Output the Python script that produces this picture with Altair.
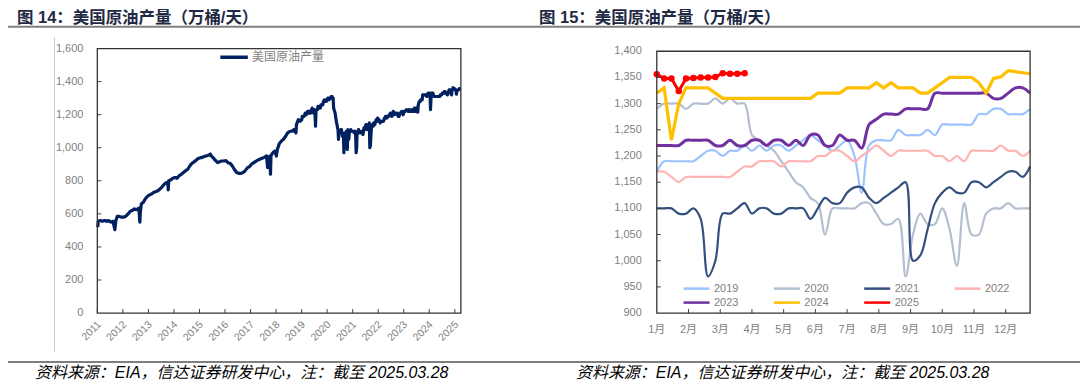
import altair as alt
import pandas as pd

# ---------------- data ----------------
pre_dates = [
    "2011-01-07", "2011-01-14", "2011-02-11", "2011-03-11", "2011-04-15", "2011-05-13", "2011-06-10", "2011-07-15",
    "2011-08-12", "2011-08-26", "2011-09-09", "2011-09-23", "2011-10-14", "2011-11-11", "2011-12-09",
    "2012-01-13", "2012-02-10", "2012-03-16", "2012-04-13", "2012-05-11", "2012-06-15", "2012-07-13", "2012-08-17",
    "2012-08-31", "2012-09-07", "2012-09-21", "2012-10-19", "2012-11-16", "2012-12-14",
    "2013-01-18", "2013-02-15", "2013-03-15", "2013-04-19", "2013-05-17", "2013-06-14", "2013-07-19", "2013-08-16",
    "2013-09-13", "2013-10-04", "2013-10-11", "2013-10-18", "2013-11-15", "2013-12-13",
    "2014-01-17", "2014-02-14", "2014-03-14", "2014-04-18", "2014-05-16", "2014-06-13", "2014-07-18", "2014-08-15",
    "2014-09-12", "2014-10-17", "2014-11-14", "2014-12-12",
    "2015-01-16", "2015-02-13", "2015-03-13", "2015-04-17", "2015-05-15", "2015-06-05", "2015-06-19", "2015-07-17",
    "2015-08-14", "2015-09-18", "2015-10-16", "2015-11-13", "2015-12-18",
    "2016-01-15", "2016-02-12", "2016-03-18", "2016-04-15", "2016-05-13", "2016-06-17", "2016-07-15", "2016-08-19",
    "2016-09-16", "2016-10-14", "2016-11-18", "2016-12-16",
    "2017-01-13", "2017-02-17", "2017-03-17", "2017-04-14", "2017-05-19", "2017-06-16", "2017-07-14", "2017-08-18",
    "2017-09-01", "2017-09-08", "2017-10-06", "2017-10-13", "2017-10-20", "2017-11-17", "2017-12-15",
    "2018-01-05", "2018-01-19", "2018-02-16", "2018-03-16", "2018-04-13", "2018-05-18", "2018-06-15", "2018-07-20",
    "2018-08-17", "2018-09-14", "2018-10-12", "2018-10-19", "2018-11-16", "2018-12-14", "2018-12-28",
]
pre_vals = [
    520, 555, 560, 555, 560, 555, 560, 550, 555, 530, 505, 560, 585, 585, 580,
    580, 585, 600, 615, 620, 630, 625, 635, 550, 610, 660, 670, 690, 705,
    715, 720, 730, 735, 740, 750, 765, 780, 790, 790, 745, 800, 805, 815,
    820, 815, 830, 840, 850, 860, 870, 890, 905, 915, 925, 935,
    940, 942, 948, 952, 956, 962, 950, 940, 925, 910, 915, 920, 920,
    922, 910, 905, 890, 870, 850, 845, 845, 850, 860, 880, 885,
    900, 910, 918, 925, 932, 937, 942, 950, 880, 935, 950, 840, 952, 970, 980,
    950, 990, 1025, 1040, 1050, 1070, 1090, 1100, 1100, 1110, 1090, 1140, 1170, 1160, 1170,
]

y2019 = [1170, 1190, 1190, 1190, 1190, 1190, 1200, 1210, 1210, 1200, 1210, 1210, 1220, 1210, 1220, 1210, 1220, 1220,
         1210, 1220, 1230, 1240, 1230, 1220, 1210, 1220, 1230, 1200, 1130, 1220, 1230, 1230, 1230, 1250, 1240, 1240,
         1240, 1250, 1240, 1260, 1260, 1260, 1260, 1260, 1280, 1280, 1290, 1290, 1280, 1280, 1280, 1290]
y2020 = [1290, 1300, 1300, 1300, 1290, 1300, 1300, 1300, 1310, 1300, 1310, 1300, 1300, 1240, 1230, 1220, 1210, 1190,
         1170, 1150, 1140, 1120, 1110, 1050, 1100, 1100, 1100, 1100, 1110, 1110, 1090, 1070, 1070, 1080, 970, 1050,
         1090, 1070, 1070, 1100, 1060, 990, 1110, 1050, 1050, 1090, 1100, 1100, 1110, 1100, 1100, 1100]
y2021 = [1100, 1100, 1100, 1090, 1090, 1100, 1080, 970, 1000, 1090, 1090, 1100, 1110, 1090, 1100, 1100, 1090, 1090,
         1100, 1100, 1100, 1080, 1100, 1120, 1110, 1110, 1130, 1140, 1140, 1120, 1110, 1120, 1130, 1140, 1150, 1000,
         1010, 1060, 1110, 1130, 1140, 1130, 1130, 1150, 1150, 1140, 1150, 1160, 1170, 1170, 1160, 1180]
y2022 = [1170, 1170, 1160, 1150, 1160, 1160, 1160, 1160, 1160, 1160, 1160, 1170, 1180, 1180, 1190, 1190, 1190, 1180,
         1190, 1190, 1190, 1190, 1200, 1200, 1210, 1210, 1200, 1190, 1200, 1210, 1220, 1210, 1200, 1210, 1210, 1210,
         1210, 1210, 1200, 1200, 1190, 1200, 1190, 1210, 1210, 1210, 1210, 1220, 1210, 1210, 1200, 1210]
y2023 = [1220, 1220, 1220, 1220, 1230, 1230, 1230, 1230, 1220, 1220, 1230, 1220, 1220, 1230, 1230, 1220, 1230, 1230,
         1220, 1230, 1220, 1240, 1240, 1220, 1220, 1240, 1230, 1230, 1215, 1260, 1270, 1280, 1280, 1280, 1290, 1290,
         1290, 1290, 1320, 1320, 1320, 1320, 1320, 1320, 1320, 1320, 1310, 1310, 1320, 1330, 1330, 1320]
y2024 = [1320, 1330, 1230, 1300, 1330, 1330, 1330, 1330, 1320, 1310, 1310, 1310, 1310, 1310, 1310, 1310, 1310, 1310,
         1310, 1310, 1310, 1310, 1320, 1320, 1320, 1320, 1330, 1330, 1330, 1330, 1340, 1330, 1340, 1330, 1330, 1330,
         1320, 1320, 1330, 1340, 1350, 1350, 1350, 1350, 1340, 1320, 1348, 1351, 1363, 1361, 1359, 1357]
y2025 = [1356, 1348, 1348, 1324, 1348, 1349, 1350, 1350, 1351, 1358, 1357, 1357, 1358]

years = ["2019", "2020", "2021", "2022", "2023", "2024", "2025"]
year_colors = ["#9DC3FF", "#B3BFD1", "#34507F", "#FFB3B3", "#7030A0", "#FFC000", "#FF0000"]
season_start = ["2019-01-04", "2020-01-03", "2021-01-01", "2022-01-07", "2023-01-06", "2024-01-05", "2025-01-03"]
seasonal = [y2019, y2020, y2021, y2022, y2023, y2024, y2025]

month_ticks = [0, 4.333, 8.667, 13, 17.333, 21.667, 26, 30.333, 34.667, 39, 43.333, 47.667]
month_labels = ["1月", "2月", "3月", "4月", "5月", "6月", "7月", "8月", "9月", "10月", "11月", "12月"]
left_y_ticks = [0, 200, 400, 600, 800, 1000, 1200, 1400, 1600]
right_y_ticks = [900, 950, 1000, 1050, 1100, 1150, 1200, 1250, 1300, 1350, 1400]
year_ticks = [str(y) for y in range(2011, 2026)]

series_name = "美国原油产量"
title_left = "图 14：美国原油产量（万桶/天）"
title_right = "图 15：美国原油产量（万桶/天）"
source_text = "资料来源：EIA，信达证券研发中心，注：截至 2025.03.28"

# ---------------- tables ----------------
rows = []
for yr, start, vals in zip(years, season_start, seasonal):
    st = pd.Timestamp(start)
    for i, v in enumerate(vals):
        rows.append({"year": yr, "week": i, "value": v,
                     "date": (st + pd.Timedelta(days=7 * i)).strftime("%Y-%m-%d")})
season_df = pd.DataFrame(rows)
hist_df = pd.concat([pd.DataFrame({"date": pre_dates, "value": pre_vals}),
                     season_df[["date", "value"]]], ignore_index=True)
hist_df["series"] = series_name

# ---------------- layout (chart coords = page - 8) ----------------
W, H = 1074, 372
LX0, LX1, LYB, LYT = 89.5, 453.7, 305.3, 40.3
RX0, RX1, RYB, RYT = 650.0, 1024.0, 305.3, 43.0
GREY = "#7f7f7f"
NUMFONT = "Liberation Sans"
CJK = "Noto Sans CJK SC"
MIXFONT = 'Liberation Sans, "Noto Sans CJK SC"'
TICK = "#404040"

one = alt.Data(values=[{"a": 1}])

# ---------- left panel ----------
lx_scale = alt.Scale(type="utc",
                     domain=[alt.DateTime(year=2011, month=1, date=1, utc=True),
                             alt.DateTime(year=2025, month=3, date=28, utc=True)],
                     range=[LX0, LX1])
ly_scale = alt.Scale(domain=[0, 1600], range=[LYB, LYT], nice=False, zero=False)

left_line = alt.Chart(hist_df).mark_line(strokeWidth=3.2, strokeJoin="round").encode(
    x=alt.X("date:T", scale=lx_scale, axis=None),
    y=alt.Y("value:Q", scale=ly_scale, axis=None),
    color=alt.Color("series:N", scale=alt.Scale(domain=[series_name], range=["#002060"]),
                    legend=alt.Legend(orient="none", legendX=210.5, legendY=33, title=None,
                                      symbolType="stroke", symbolSize=760, symbolStrokeWidth=3.5,
                                      labelFontSize=12, labelColor=GREY, labelFont=CJK,
                                      labelOffset=2, padding=0)),
)

left_ytick_df = pd.DataFrame({"v": left_y_ticks})
left_yticks = alt.Chart(left_ytick_df).transform_filter(
    (alt.datum.v > 0) & (alt.datum.v < 1600)
).mark_rule(color=TICK, strokeWidth=1).encode(
    y=alt.Y("v:Q", scale=ly_scale, axis=None),
    x=alt.value(LX0), x2=alt.value(LX0 + 4),
)
left_ylabels = alt.Chart(left_ytick_df).mark_text(
    align="right", baseline="middle", fontSize=11, color=GREY, font=NUMFONT
).encode(
    y=alt.Y("v:Q", scale=ly_scale, axis=None),
    x=alt.value(LX0 - 14),
    text=alt.Text("v:Q", format=","),
)
left_xtick_df = pd.DataFrame({"d": [f"{y}-01-01" for y in year_ticks], "label": year_ticks})
left_xticks = alt.Chart(left_xtick_df).mark_rule(color=TICK, strokeWidth=1).encode(
    x=alt.X("d:T", scale=lx_scale, axis=None),
    y=alt.value(LYB), y2=alt.value(LYB - 4),
)
left_xlabels = alt.Chart(left_xtick_df).mark_text(
    align="right", baseline="middle", angle=315, fontSize=10.5, color=GREY, font=NUMFONT, dx=3
).encode(
    x=alt.X("d:T", scale=lx_scale, axis=None),
    y=alt.value(LYB + 12),
    text="label:N",
)
left_panel = alt.layer(left_line, left_yticks, left_ylabels, left_xticks, left_xlabels)

# ---------- right panel ----------
rx_scale = alt.Scale(domain=[0, 51], range=[RX0, RX1], nice=False, zero=False)
ry_scale = alt.Scale(domain=[900, 1400], range=[RYB, RYT], nice=False, zero=False)
color_scale = alt.Scale(domain=years, range=year_colors)
right_legend = alt.Legend(orient="none", legendX=681.8, legendY=272.8, columns=4, direction="horizontal",
                          title=None, symbolType="M-2,0L2,0", symbolSize=169, symbolStrokeWidth=2.5,
                          labelFontSize=11, labelColor=GREY, labelFont=NUMFONT, labelOffset=9.5,
                          columnPadding=30.5, rowPadding=1, padding=0, gridAlign="all")

X_R = alt.X("week:Q", scale=rx_scale, axis=None)
Y_R = alt.Y("value:Q", scale=ry_scale, axis=None)
C_R = alt.Color("year:N", scale=color_scale, legend=right_legend)


def by_years(sel):
    return alt.Chart(season_df).transform_filter(alt.FieldOneOfPredicate(field="year", oneOf=sel))


thin = by_years(["2019", "2020", "2021", "2022"]).mark_line(
    strokeWidth=2.2, interpolate="catmull-rom").encode(x=X_R, y=Y_R, color=C_R)
purple = by_years(["2023"]).mark_line(strokeWidth=3, interpolate="catmull-rom").encode(x=X_R, y=Y_R, color=C_R)
gold = by_years(["2024"]).mark_line(strokeWidth=3.2).encode(x=X_R, y=Y_R, color=C_R)
red_line = by_years(["2025"]).mark_line(strokeWidth=3).encode(x=X_R, y=Y_R, color=C_R)
red_pts = by_years(["2025"]).mark_point(filled=True, size=42, opacity=1).encode(x=X_R, y=Y_R, color=C_R)

right_ytick_df = pd.DataFrame({"v": right_y_ticks})
right_yticks = alt.Chart(right_ytick_df).transform_filter(
    (alt.datum.v > 900) & (alt.datum.v < 1400)
).mark_rule(color=TICK, strokeWidth=1).encode(
    y=alt.Y("v:Q", scale=ry_scale, axis=None),
    x=alt.value(RX0), x2=alt.value(RX0 + 4),
)
right_ylabels = alt.Chart(right_ytick_df).mark_text(
    align="right", baseline="middle", fontSize=11, color=GREY, font=NUMFONT
).encode(
    y=alt.Y("v:Q", scale=ry_scale, axis=None),
    x=alt.value(RX0 - 15),
    text=alt.Text("v:Q", format=","),
)
right_xtick_df = pd.DataFrame({"m": month_ticks, "label": month_labels})
right_xticks = alt.Chart(right_xtick_df).transform_filter(alt.datum.m > 0).mark_rule(
    color=TICK, strokeWidth=1).encode(
    x=alt.X("m:Q", scale=rx_scale, axis=None),
    y=alt.value(RYB), y2=alt.value(RYB - 4),
)
right_xlabels = alt.Chart(right_xtick_df).mark_text(
    align="center", baseline="middle", fontSize=11, color=GREY, font=MIXFONT
).encode(
    x=alt.X("m:Q", scale=rx_scale, axis=None),
    y=alt.value(RYB + 16.7),
    text="label:N",
)
right_panel = alt.layer(thin, purple, gold, red_line, red_pts,
                        right_yticks, right_ylabels, right_xticks, right_xlabels)

# ---------- decorations ----------
def frame(x0, x1, yt, yb):
    return alt.Chart(one).mark_rect(fillOpacity=0, stroke="#333333", strokeWidth=1.3).encode(
        x=alt.value(x0), x2=alt.value(x1), y=alt.value(yt), y2=alt.value(yb))


def text(t, x, y, **kw):
    return alt.Chart(one).mark_text(text=t, align="left", baseline="middle", **kw).encode(
        x=alt.value(x), y=alt.value(y))


def hline(x0, x1, y, color, w):
    return alt.Chart(one).mark_rule(color=color, strokeWidth=w).encode(
        x=alt.value(x0), x2=alt.value(x1), y=alt.value(y))


TITLE_COLOR = "#1f2a44"
deco = [
    frame(LX0, LX1, LYT, LYB),
    frame(RX0, RX1, RYT, RYB),
    text(title_left, 9, 9.2, fontSize=16.5, fontWeight="bold", font=MIXFONT, color=TITLE_COLOR),
    text(title_right, 532, 9.2, fontSize=16.5, fontWeight="bold", font=MIXFONT, color=TITLE_COLOR),
    hline(0, W, 18.5, "#808080", 2),
    hline(0, W, 354.3, "#000000", 1.2),
    text(source_text, 27, 365.5, fontSize=16, fontStyle="italic", font=MIXFONT, color="#000000"),
    text(source_text, 569, 365.5, fontSize=16, fontStyle="italic", font=MIXFONT, color="#000000"),
    alt.Chart(one).mark_rule(color="#c8c8c8", strokeWidth=1).encode(
        x=alt.value(46.5), y=alt.value(29), y2=alt.value(344)),
]

chart = alt.layer(left_panel, right_panel, *deco).resolve_scale(
    x="independent", y="independent", color="independent"
).properties(
    width=W, height=H, autosize=alt.AutoSizeParams(type="none"), padding=0
).configure_view(stroke=None)

chart.save("out.html", embed_options={"renderer": "svg", "actions": False})
